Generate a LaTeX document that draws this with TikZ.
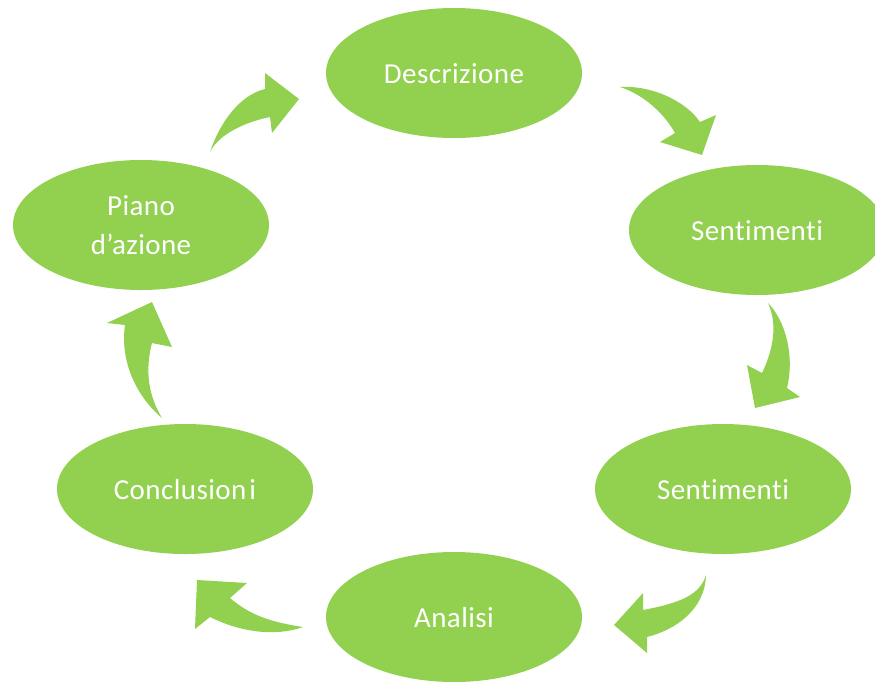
\documentclass[tikz,border=0pt]{standalone}
\usepackage{fontspec}
\setmainfont{Carlito}[Ligatures={NoCommon}, LetterSpace=1.5]
\usetikzlibrary{shapes.geometric}
\definecolor{leaf}{HTML}{92D050}
\begin{document}
\begin{tikzpicture}[x=1pt,y=-1pt,
  stage/.style={ellipse, fill=leaf, minimum width=256pt, minimum height=130pt, inner sep=0pt,
    text=white, font=\fontsize{29}{39}\selectfont, align=center},
  oneline/.style={text height=20pt, text depth=0pt},
  blockarrow/.style={fill=leaf, draw=none}]
\useasboundingbox (0,0) rectangle (875,681);
\clip (0,0) rectangle (875,681);
\node[stage, oneline] (desc) at (454,73) {Descrizione};
\node[stage, oneline] (sent1) at (757,230) {Sentimenti};
\node[stage, oneline] (sent2) at (723,489) {Sentimenti};
\node[stage, oneline] (anal) at (454,617) {Analisi};
\node[stage, oneline] (concl) at (185,489) {Conclusion\kern3pt i};
\node[stage] (piano) at (141,225) {Piano\\d’azione};
% curved block arrows
\fill[blockarrow] (210,152) .. controls (220,122) and (240,95) .. (265,89) -- (265,73) -- (299,99) -- (272,133) -- (270,117) .. controls (250,121) and (220,132) .. (210,152) -- cycle;
\fill[blockarrow] (620,87) .. controls (650,85) and (685,100) .. (700,122) -- (716,115) -- (702,155) -- (660,142) -- (675,133) .. controls (665,115) and (645,95) .. (620,87) -- cycle;
\fill[blockarrow] (768,303) .. controls (785,320) and (795,355) .. (787,388) -- (800,397) -- (755,408) -- (747,365) -- (762,373) .. controls (773,350) and (778,325) .. (768,303) -- cycle;
\fill[blockarrow] (706,575) .. controls (705,610) and (675,630) .. (647,637) -- (647,653) -- (614,625) -- (643,593) -- (643,610) .. controls (680,603) and (700,595) .. (706,575) -- cycle;
\fill[blockarrow] (303,627) .. controls (275,637) and (240,632) .. (210,617) -- (195,629) -- (197,580) -- (247,583) -- (230,598) .. controls (250,615) and (270,622) .. (303,627) -- cycle;
\fill[blockarrow] (162,418) .. controls (135,395) and (120,360) .. (125,325) -- (107,323) -- (152,302) -- (172,347) -- (152,343) .. controls (145,370) and (148,395) .. (162,418) -- cycle;
\end{tikzpicture}
\end{document}
